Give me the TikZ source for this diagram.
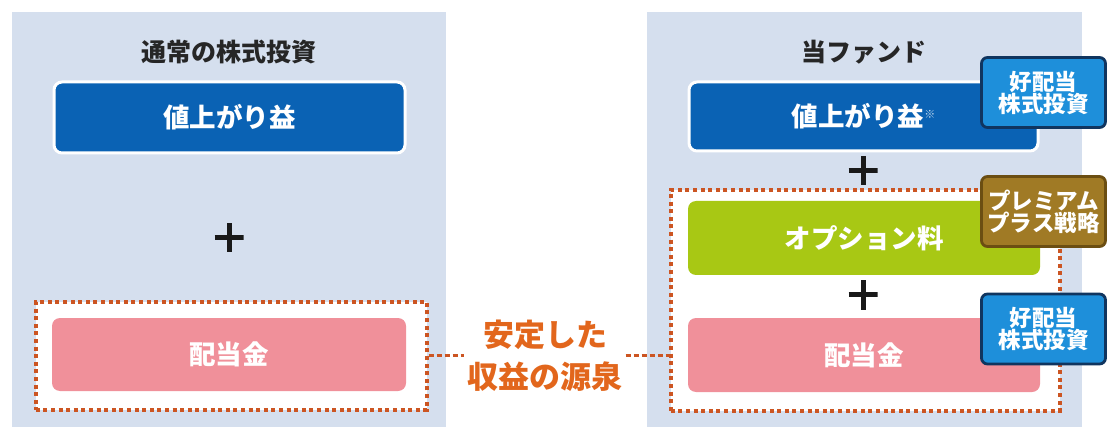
\documentclass[tikz,border=0pt]{standalone}
\usepackage{fontspec}
\setmainfont{Noto Sans CJK JP}
\usetikzlibrary{positioning}
\definecolor{panel}{HTML}{D5DFEE}
\definecolor{bluebox}{HTML}{0A62B4}
\definecolor{pinkbox}{HTML}{F0909A}
\definecolor{greenbox}{HTML}{A8C814}
\definecolor{orangeln}{HTML}{E2661C}
\definecolor{dotcol}{HTML}{CC5522}
\definecolor{badgeblue}{HTML}{1E8FDA}
\definecolor{badgeedge}{HTML}{10355F}
\definecolor{badgebrown}{HTML}{A07A25}
\definecolor{brownedge}{HTML}{6B4E12}
\tikzset{
  panelbox/.style={fill=panel, draw=none, anchor=north west, inner sep=0pt},
  mainbox/.style={rounded corners=8pt, text=white, font=\bfseries\fontsize{26.5}{30}\selectfont, minimum width=351pt, minimum height=71pt, inner sep=0pt},
  dotbox/.style={draw=dotcol, fill=white, line width=3.6pt, dash pattern=on 4pt off 3.6pt, inner sep=0pt, anchor=north west},
  badge/.style={rounded corners=6pt, line width=2.8pt, text=white, font=\bfseries\fontsize{22.5}{22}\selectfont, align=center, minimum width=124pt, minimum height=70pt, inner sep=0pt},
  plussign/.style={minimum size=29pt, inner sep=0pt, path picture={
      \draw[line width=5pt, black!90] (path picture bounding box.west) -- (path picture bounding box.east);
      \draw[line width=5pt, black!90] (path picture bounding box.north) -- (path picture bounding box.south);}},
  titletext/.style={font=\bfseries\fontsize{25}{28}\selectfont, text=black!85, inner sep=0pt},
  conn/.style={draw=dotcol, line width=3pt, dash pattern=on 5pt off 3pt}
}
\begin{document}
\begin{tikzpicture}[x=1pt, y=-1pt]
\useasboundingbox (0,0) rectangle (1107,427);
\fill[white] (0,0) rectangle (1107,427);
% panels
\node[panelbox, minimum width=434pt, minimum height=416pt] (lpanel) at (12,12) {};
\node[panelbox, minimum width=435pt, minimum height=416pt] (rpanel) at (647,12) {};
% titles
\node[titletext] (ltitle) at (229,52) {通常の株式投資};
\node[titletext] (rtitle) at (864,52) {当ファンド};
% left side
\node[mainbox, fill=bluebox, draw=white, line width=3pt] (lgain) at (229.5,117.5) {値上がり益};
\node[plussign] (lplus) at (229,238) {};
\node[dotbox, minimum width=391pt, minimum height=108pt] (ldot) at (34,300) {};
\node[mainbox, fill=pinkbox, minimum width=354pt, minimum height=73pt] (ldiv) at (229,354.5) {配当金};
% right side
\node[mainbox, fill=bluebox, draw=white, line width=3pt, minimum width=349pt, minimum height=69pt] (rgain) at (863.5,116.5) {値上がり益{\fontsize{11}{11}\selectfont\raisebox{8pt}{\color{white!75!bluebox}※}}};
\node[plussign] (rplus1) at (863,171) {};
\node[dotbox, minimum width=389pt, minimum height=221pt] (rdot) at (669,188) {};
\node[mainbox, fill=greenbox, minimum width=352pt, minimum height=74pt] (ropt) at (864,238) {オプション料};
\node[plussign] (rplus2) at (863,295) {};
\node[mainbox, fill=pinkbox, minimum width=352pt, minimum height=74pt] (rdiv) at (864,355) {配当金};
% badges
\node[badge, fill=badgeblue, draw=badgeedge] (b1) at (1043.5,92.5) {好配当\\株式投資};
\node[badge, fill=badgebrown, draw=brownedge] (b2) at (1043.5,211.5) {プレミアム\\プラス戦略};
\node[badge, fill=badgeblue, draw=badgeedge] (b3) at (1043.5,329) {好配当\\株式投資};
% center label
\node[font=\bfseries\fontsize{31}{42}\selectfont, text=orangeln, align=center, inner sep=3pt] (src) at (545,356) {安定した\\収益の源泉};
\draw[conn] (ldot.east) -- (ldot.east -| src.west);
\draw[conn] (src.east |- ldot.east) -- (rdot.west |- ldot.east);
\end{tikzpicture}
\end{document}
